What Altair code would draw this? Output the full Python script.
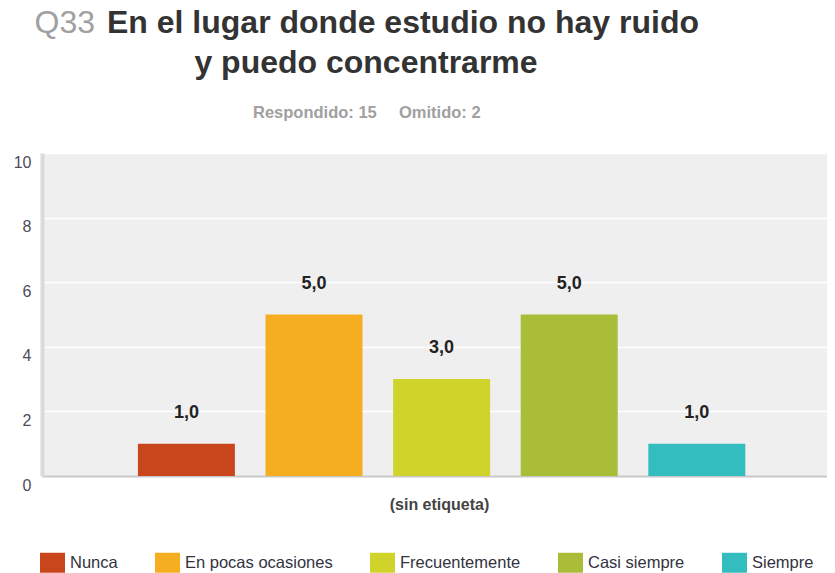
import altair as alt
import pandas as pd

categories = ["Nunca", "En pocas ocasiones", "Frecuentemente", "Casi siempre", "Siempre"]
counts = [1, 5, 3, 5, 1]
colors = ["#c9461d", "#f5ae1f", "#d0d42a", "#a9bd38", "#34bdbf"]

title_q = "Q33"
title_line1 = "En el lugar donde estudio no hay ruido"
title_line2 = "y puedo concentrarme"
sub_answered = "Respondido: 15"
sub_skipped = "Omitido: 2"
x_title = "(sin etiqueta)"

FONT = "Liberation Sans"

df = pd.DataFrame({"cat": categories, "n": counts})

x_enc = alt.X(
    "cat:N",
    sort=categories,
    scale=alt.Scale(paddingInner=0.24, paddingOuter=0.696, align=0.54),
    axis=alt.Axis(
        labels=False, ticks=False, title=x_title, titleFont=FONT, titleFontSize=16,
        titleFontWeight="bold", titleColor="#444444", titlePadding=20,
        domainColor="#c8c8c8", domainWidth=2, grid=False, titleX=397,
    ),
)
y_enc = alt.Y(
    "n:Q",
    scale=alt.Scale(domain=[0, 10], nice=False),
    axis=alt.Axis(
        values=list(range(0, 11)), labelExpr="datum.value % 2 == 0 ? datum.label : ''",
        ticks=False, tickSize=0, labelPadding=11, labelOffset=9, labelFont=FONT,
        labelFontSize=16, labelColor="#4d4d5a", domainColor="#dadada", domainWidth=4,
        gridColor="#ffffff", gridWidth=1.5, title=None,
    ),
)

bars = alt.Chart(df).mark_bar().encode(
    x=x_enc,
    y=y_enc,
    color=alt.Color(
        "cat:N", sort=categories,
        scale=alt.Scale(domain=categories, range=colors),
        legend=alt.Legend(
            title=None, orient="none", direction="horizontal", legendX=-2, legendY=397,
            symbolType="M-1,-0.8H1V0.8H-1Z", symbolSize=625, symbolStrokeWidth=0,
            symbolOpacity=1, labelFont=FONT, labelFontSize=16.5, labelColor="#333340",
            labelOffset=5, columnPadding=37, labelLimit=300,
        ),
    ),
)

labels = alt.Chart(df).transform_calculate(
    lbl="replace(format(datum.n, '.1f'), '.', ',')"
).mark_text(
    font=FONT, fontSize=18, fontWeight="bold", color="#222222", baseline="alphabetic", dy=-26
).encode(x=alt.X("cat:N", sort=categories), y="n:Q", text="lbl:N")

tq = alt.Chart(pd.DataFrame({"t": [title_q]})).mark_text(
    font=FONT, fontSize=32, color="#a0a0a0", align="right", baseline="alphabetic"
).encode(x=alt.value(53), y=alt.value(-120), text="t:N")
t1 = alt.Chart(pd.DataFrame({"t": [title_line1]})).mark_text(
    font=FONT, fontSize=32, fontWeight="bold", color="#333333", align="left", baseline="alphabetic"
).encode(x=alt.value(65), y=alt.value(-120), text="t:N")
t2 = alt.Chart(pd.DataFrame({"t": [title_line2]})).mark_text(
    font=FONT, fontSize=32, fontWeight="bold", color="#333333", align="center", baseline="alphabetic"
).encode(x=alt.value(324), y=alt.value(-80), text="t:N")
s1 = alt.Chart(pd.DataFrame({"t": [sub_answered]})).mark_text(
    font=FONT, fontSize=16.5, fontWeight="bold", color="#a0a0a0", align="left", baseline="alphabetic"
).encode(x=alt.value(211), y=alt.value(-35.5), text="t:N")
s2 = alt.Chart(pd.DataFrame({"t": [sub_skipped]})).mark_text(
    font=FONT, fontSize=16.5, fontWeight="bold", color="#a0a0a0", align="left", baseline="alphabetic"
).encode(x=alt.value(357), y=alt.value(-35.5), text="t:N")

chart = alt.layer(bars, labels, tq, t1, t2, s1, s2).properties(
    width=785, height=323,
    padding={"left": 34, "top": 145, "right": 0, "bottom": 97},
    autosize=alt.AutoSizeParams(type="none"),
    background="#ffffff",
).configure_view(
    fill="#efefef", stroke=None
)

chart.save("out.html", embed_options={"renderer": "svg", "actions": False})
